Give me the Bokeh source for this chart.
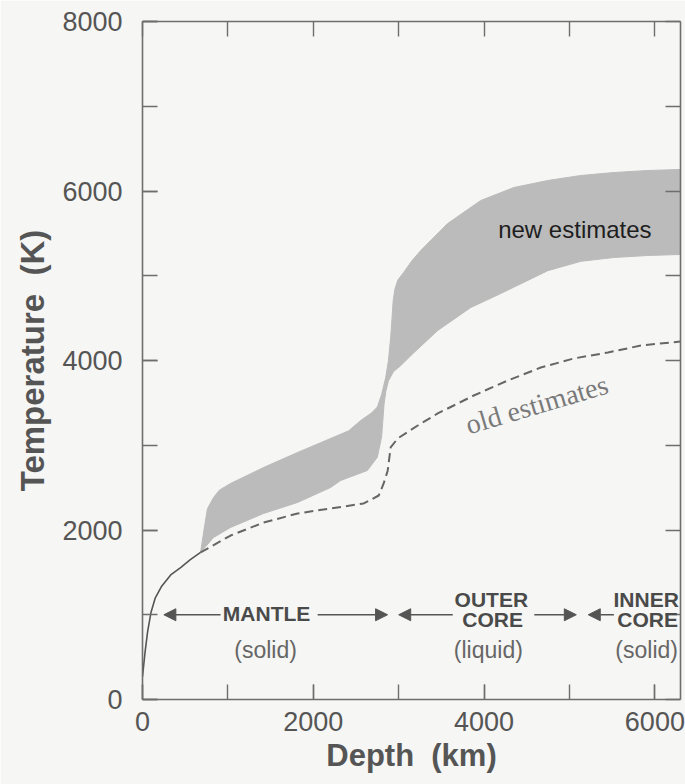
from bokeh.plotting import figure
from bokeh.models import Range1d, LinearAxis, SingleIntervalTicker, FixedTicker, Arrow, NormalHead, Label
from bokeh.embed import file_html
from bokeh.resources import INLINE

# ---- data (depth in km, temperature in K) ----
shallow_depth = [0, 30, 60, 100, 150, 220, 330, 450, 560, 680]
shallow_temp = [270, 560, 800, 1030, 1200, 1330, 1470, 1560, 1650, 1735]

new_upper_depth = [680, 720, 760, 832, 900, 1031, 1418, 1816, 2203, 2414, 2555, 2680, 2750,
                   2800, 2848, 2880, 2906, 2922, 2935, 2955, 2990, 3059, 3150, 3258, 3574,
                   3961, 4348, 4746, 5133, 5520, 5918, 6300]
new_upper_temp = [1735, 2000, 2250, 2384, 2470, 2549, 2738, 2915, 3080, 3170, 3292, 3380, 3450,
                  3600, 3799, 4000, 4271, 4500, 4700, 4840, 4950, 5040, 5170, 5298, 5617,
                  5888, 6041, 6124, 6183, 6218, 6242, 6254]

new_lower_depth = [680, 832, 1031, 1418, 1816, 2203, 2320, 2633, 2750, 2800, 2815, 2829,
                   2850, 2880, 2940, 3024, 3176, 3457, 3844, 4195, 4746, 5133, 5520, 5918, 6300]
new_lower_temp = [1735, 1911, 2030, 2195, 2325, 2502, 2584, 2702, 2859, 3100, 3300, 3489,
                  3640, 3760, 3870, 3940, 4090, 4354, 4625, 4790, 5060, 5170, 5215, 5239, 5251]

old_depth = [680, 1031, 1418, 1816, 2203, 2590, 2766, 2824, 2871, 2906, 2988, 3223,
             3457, 3879, 4277, 4664, 5051, 5450, 5836, 6300]
old_temp = [1735, 1935, 2088, 2195, 2254, 2313, 2407, 2549, 2700, 2974, 3080, 3233,
            3375, 3587, 3764, 3917, 4024, 4094, 4177, 4224]

x_tick_step = 2000
y_tick_step = 2000
x_minor_ticks = [0, 1000, 2000, 3000, 4000, 5000, 6000]
y_minor_ticks = [0, 1000, 2000, 3000, 4000, 5000, 6000, 7000, 8000]

BG = "#f6f6f4"
AX = "#6e6e6e"
TXT = "#555555"

p = figure(width=685, height=784, x_range=Range1d(0, 6300), y_range=Range1d(0, 8000),
           output_backend="svg", toolbar_location=None,
           min_border_left=142, min_border_right=5, min_border_top=21, min_border_bottom=85)
p.background_fill_color = BG
p.border_fill_color = BG
p.outline_line_color = None
p.xgrid.visible = False
p.ygrid.visible = False

# band of new estimates
p.patch(new_upper_depth + new_lower_depth[::-1], new_upper_temp + new_lower_temp[::-1],
        fill_color="#bbbbbb", line_color="#bbbbbb", line_width=1)
# old estimates
p.line(old_depth, old_temp, line_color="#666666", line_width=2, line_dash="9 5")
# shallow common curve
p.line(shallow_depth, shallow_temp, line_color="#555555", line_width=1.6)


def style_axis(ax):
    ax.axis_line_color = AX
    ax.axis_line_width = 1.6
    ax.major_tick_line_color = AX
    ax.minor_tick_line_color = AX
    ax.major_tick_line_width = 1.4
    ax.minor_tick_line_width = 1.4
    ax.major_tick_in = 15
    ax.major_tick_out = 0
    ax.minor_tick_in = 15
    ax.minor_tick_out = 0
    ax.major_label_text_font = "Liberation Sans"
    ax.major_label_text_color = TXT
    ax.major_label_text_font_size = "27px"
    ax.axis_label_text_font = "Liberation Sans"
    ax.axis_label_text_font_style = "bold"
    ax.axis_label_text_color = TXT


p.xaxis.ticker = SingleIntervalTicker(interval=x_tick_step, num_minor_ticks=2)
p.yaxis.ticker = SingleIntervalTicker(interval=y_tick_step, num_minor_ticks=2)
style_axis(p.xaxis[0])
style_axis(p.yaxis[0])
p.xaxis.axis_label = "Depth\u00a0\u00a0(km)"
p.yaxis.axis_label = "Temperature\u00a0\u00a0(K)"
p.xaxis.axis_label_text_font_size = "31px"
p.yaxis.axis_label_text_font_size = "33px"
p.xaxis.major_label_standoff = 12
p.yaxis.major_label_standoff = 20
p.xaxis.axis_label_standoff = 4
p.yaxis.axis_label_standoff = 8

top = LinearAxis(ticker=FixedTicker(ticks=[], minor_ticks=x_minor_ticks))
right = LinearAxis(ticker=FixedTicker(ticks=[], minor_ticks=y_minor_ticks))
style_axis(top)
style_axis(right)
p.add_layout(top, "above")
p.add_layout(right, "right")

# annotations
p.add_layout(Label(x=5063, y=5383, text="new estimates", text_align="center",
                   text_font="Liberation Sans", text_font_size="24px", text_color="#1e1e1e"))
p.add_layout(Label(x=4617, y=3480, text="old estimates", text_align="center",
                   text_baseline="alphabetic", angle=0.288, angle_units="rad",
                   text_font="Liberation Serif", text_font_size="28px", text_color="#7a7a7a"))

bold = dict(text_font="Liberation Sans", text_font_style="bold", text_font_size="21px",
            text_color="#4a4a4a")
norm = dict(text_font="Liberation Sans", text_font_size="23px", text_color="#666666")

p.add_layout(Label(x=1453, y=880, text="MANTLE", text_align="center", **bold))
p.add_layout(Label(x=1441, y=430, text="(solid)", text_align="center", **norm))
p.add_layout(Label(x=4085, y=1050, text="OUTER", text_align="center", **bold))
p.add_layout(Label(x=4100, y=814, text="CORE", text_align="center", **bold))
p.add_layout(Label(x=4050, y=430, text="(liquid)", text_align="center", **norm))
p.add_layout(Label(x=6281, y=1050, text="INNER", text_align="right", **bold))
p.add_layout(Label(x=6270, y=814, text="CORE", text_align="right", **bold))
p.add_layout(Label(x=6270, y=430, text="(solid)", text_align="right", **norm))

ARW = "#555555"
for xs, xe in [(914, 250), (2051, 2870), (3633, 3000), (4588, 5080), (5520, 5220)]:
    p.add_layout(Arrow(end=NormalHead(size=12, fill_color=ARW, line_color=ARW, line_width=1),
                       x_start=xs, y_start=1000, x_end=xe, y_end=1000,
                       line_color=ARW, line_width=1.6))

open("out.html", "w").write(file_html(p, INLINE))
